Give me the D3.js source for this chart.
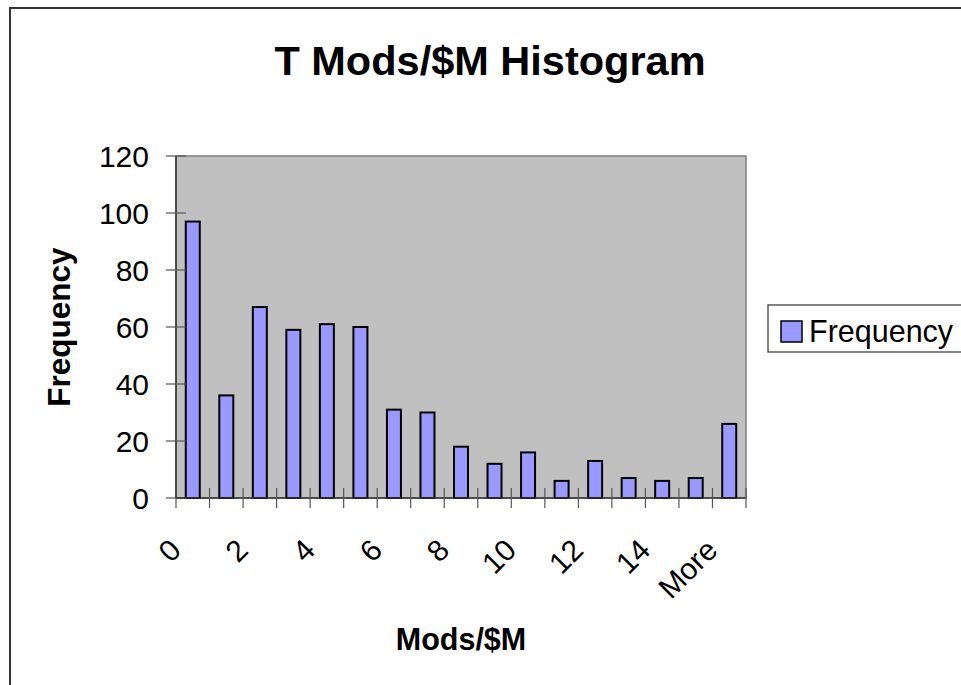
<!DOCTYPE html>
<html>
<head>
<meta charset="utf-8">
<script src="https://cdn.jsdelivr.net/npm/d3@7"></script>
<style>
  body { margin: 0; background: #fff; }
  text { font-family: "Liberation Sans", Arial, sans-serif; fill: #000; }
</style>
</head>
<body>
<svg id="chart" width="961" height="685"></svg>
<script>
const bins = ['0', '1', '2', '3', '4', '5', '6', '7', '8', '9', '10', '11', '12', '13', '14', '15', 'More']
const frequency = [97, 36, 67, 59, 61, 60, 31, 30, 18, 12, 16, 6, 13, 7, 6, 7, 26]
const yTicks = [0, 20, 40, 60, 80, 100, 120]
const shownLabels = ['0', '2', '4', '6', '8', '10', '12', '14', 'More']

function drawChart() {
  const svg = d3.select('#chart')

  const plot = { left: 176, top: 156, right: 746, bottom: 498 }

  // outer chart border (runs off the right and bottom)
  svg.append('rect')
    .attr('x', 10).attr('y', 8)
    .attr('width', 1000).attr('height', 700)
    .attr('fill', '#fff')
    .attr('stroke', '#333')
    .attr('stroke-width', 2)

  const xCat = d3.scaleBand()
    .domain(bins)
    .range([plot.left, plot.right])

  const y = d3.scaleLinear()
    .domain([0, 120])
    .range([plot.bottom, plot.top])

  // plot area
  svg.append('rect')
    .attr('x', plot.left).attr('y', plot.top)
    .attr('width', plot.right - plot.left)
    .attr('height', plot.bottom - plot.top)
    .attr('fill', '#c0c0c0')
    .attr('stroke', '#808080')
    .attr('stroke-width', 1.5)

  // bars
  svg.append('g')
    .selectAll('rect')
    .data(frequency)
    .join('rect')
    .attr('x', (d, i) => xCat(bins[i]) + xCat.bandwidth() / 2 - 7)
    .attr('width', 14)
    .attr('y', d => y(d))
    .attr('height', d => y(0) - y(d))
    .attr('fill', '#9999ff')
    .attr('stroke', '#000')
    .attr('stroke-width', 2)

  // y axis with crossing ticks
  const yAxis = svg.append('g')
  yAxis.append('line')
    .attr('x1', plot.left).attr('x2', plot.left)
    .attr('y1', plot.top).attr('y2', plot.bottom)
    .attr('stroke', '#333').attr('stroke-width', 1.5)
  yAxis.selectAll('line.tick')
    .data(yTicks)
    .join('line')
    .attr('class', 'tick')
    .attr('x1', plot.left - 10).attr('x2', plot.left + 10)
    .attr('y1', d => y(d)).attr('y2', d => y(d))
    .attr('stroke', '#555').attr('stroke-width', 1.2)
  yAxis.selectAll('text')
    .data(yTicks)
    .join('text')
    .attr('x', 149)
    .attr('y', d => y(d))
    .attr('dy', '0.36em')
    .attr('text-anchor', 'end')
    .style('font-size', '30px')
    .text(d => d)

  // x axis
  const xAxis = svg.append('g')
  xAxis.append('line')
    .attr('x1', plot.left).attr('x2', plot.right)
    .attr('y1', plot.bottom).attr('y2', plot.bottom)
    .attr('stroke', '#333').attr('stroke-width', 1.5)
  const edges = bins.map(b => xCat(b)).concat([plot.right])
  xAxis.selectAll('line.tick')
    .data(edges)
    .join('line')
    .attr('class', 'tick')
    .attr('x1', d => d).attr('x2', d => d)
    .attr('y1', (d, i) => i === 0 ? plot.bottom : plot.bottom - 10)
    .attr('y2', plot.bottom + 10)
    .attr('stroke', '#555').attr('stroke-width', 1.2)
  xAxis.selectAll('text')
    .data(shownLabels)
    .join('text')
    .attr('transform', d => `translate(${xCat(d) + xCat.bandwidth() / 2 - 10},552) rotate(-45)`)
    .attr('text-anchor', 'end')
    .style('font-size', '30px')
    .text(d => d)

  // titles
  svg.append('text')
    .attr('x', 490).attr('y', 75)
    .attr('text-anchor', 'middle')
    .style('font-size', '41.5px')
    .style('font-weight', 'bold')
    .text('T Mods/$M Histogram')

  svg.append('text')
    .attr('x', (plot.left + plot.right) / 2).attr('y', 650)
    .attr('text-anchor', 'middle')
    .style('font-size', '30.5px')
    .style('font-weight', 'bold')
    .text('Mods/$M')

  svg.append('text')
    .attr('transform', 'translate(70,327) rotate(-90)')
    .attr('text-anchor', 'middle')
    .style('font-size', '31.5px')
    .style('font-weight', 'bold')
    .text('Frequency')

  // legend
  const legend = svg.append('g')
  legend.append('rect')
    .attr('x', 768).attr('y', 305)
    .attr('width', 220).attr('height', 47)
    .attr('fill', '#fff')
    .attr('stroke', '#333').attr('stroke-width', 1.2)
  legend.append('rect')
    .attr('x', 781).attr('y', 321)
    .attr('width', 21).attr('height', 21)
    .attr('fill', '#9999ff')
    .attr('stroke', '#000').attr('stroke-width', 1.5)
  legend.append('text')
    .attr('x', 809).attr('y', 342)
    .style('font-size', '30.5px')
    .text('Frequency')
}

document.addEventListener('DOMContentLoaded', drawChart, false)
</script>
</body>
</html>
